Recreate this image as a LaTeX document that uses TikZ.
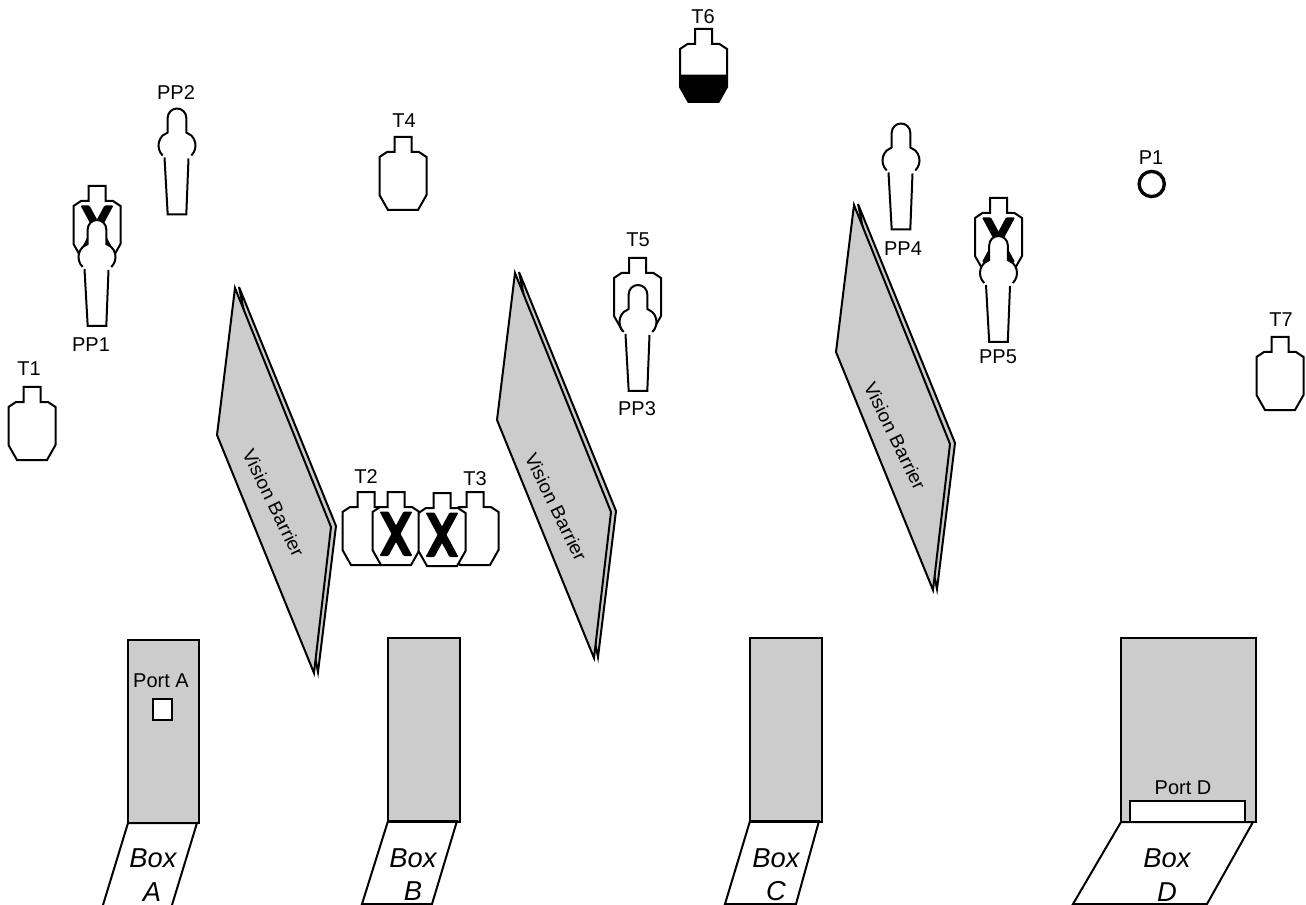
\documentclass[tikz,border=0pt]{standalone}
\usepackage{fontspec}
\setmainfont{Liberation Sans}
\definecolor{panelgray}{HTML}{CCCCCC}
\tikzset{
	lab/.style={font=\fontsize{15}{17}\selectfont, inner sep=0pt},
	boxlab/.style={font=\fontsize{20.5}{23}\selectfont\itshape, inner sep=0pt},
	barlab/.style={font=\fontsize{14}{16}\selectfont, inner sep=0pt, rotate=-64, xscale=1.05},
	outline/.style={line width=1.5pt, black},
	pics/target/.style={code={
		\draw[outline, fill=white] (-8.5,0) -- (8.5,0) -- (8.5,15) -- (16,15) -- (23.5,20) -- (23.5,58) -- (15,73) -- (-15,73) -- (-23.5,58) -- (-23.5,20) -- (-16,15) -- (-8.5,15) -- cycle;
	}},
	pics/hittarget/.style={code={
		\pic {target};
		\fill[rounded corners=0.8pt] (-16.5,19.5) -- (-7.5,19.5) -- (16.5,64) -- (7.5,64) -- cycle;
		\fill[rounded corners=0.8pt] (16.5,19.5) -- (7.5,19.5) -- (-16.5,64) -- (-7.5,64) -- cycle;
	}},
	pics/popper/.style={code={
		\fill[white] (14.3,47) arc[start angle=45.6, end angle=-45.6, radius=14] -- (9.3,24) -- (9.3,9.3) arc[start angle=0, end angle=-180, radius=9.3] -- (-9.3,24) -- (-14.3,27) arc[start angle=-134.4, end angle=-225.6, radius=14] -- (-9.3,106) -- (9.3,106) -- cycle;
		\draw[outline] (14.3,47) arc[start angle=45.6, end angle=-45.6, radius=14] -- (9.3,24) -- (9.3,9.3) arc[start angle=0, end angle=-180, radius=9.3] -- (-9.3,24) -- (-14.3,27) arc[start angle=-134.4, end angle=-225.6, radius=14];
		\draw[outline] (-12.5,49) -- (-9.3,106) -- (9.3,106) -- (11.5,50);
	}},
	pics/barrier/.style={code={
		\draw[outline, fill=panelgray] (4,-1) -- (101,238) -- (83,384) -- cycle;
		\draw[outline, fill=panelgray] (0,0) -- (-18,147) -- (79,385) -- (96,239) -- cycle;
	}}
}
\begin{document}
\begin{tikzpicture}[x=0.75pt, y=-0.75pt]
	\useasboundingbox (0,0) rectangle (1306,905);

	\pic at (235,288) {barrier};
	\pic at (515,273) {barrier};
	\pic at (854,205) {barrier};
	\node (bar1) [barlab] at (273.5,503) {Vision Barrier};
	\node (bar2) [barlab] at (556,507) {Vision Barrier};
	\node (bar3) [barlab] at (895,436) {Vision Barrier};

	\pic at (32,387) {target};
	\pic at (366,492) {target};
	\pic at (396,492) {hittarget};
	\pic at (475,492) {target};
	\pic at (442,493) {hittarget};
	\pic at (403,137) {target};
	\pic at (637.5,258) {target};
	\pic at (703.5,29) {target};
	\fill (680,74.7) -- (727,74.7) -- (727,87) -- (718.5,102) -- (688.5,102) -- (680,87) -- cycle;
	\pic at (1280,337) {target};
	\pic at (97,186) {hittarget};
	\pic at (998.5,198) {hittarget};

	\pic at (97,220) {popper};
	\pic at (177,108.5) {popper};
	\pic at (638,285) {popper};
	\pic at (901,123.5) {popper};
	\pic at (998.5,236) {popper};

	\draw[line width=2.5pt] (1151.7,184) circle[radius=12.6];

	\draw[outline, fill=panelgray] (128,640) rectangle (199,823);
	\draw[outline, fill=panelgray] (388,638) rectangle (460,822);
	\draw[outline, fill=panelgray] (750,638) rectangle (822,822);
	\draw[outline, fill=panelgray] (1121,638) rectangle (1256,822);
	\draw[outline, fill=white] (153,699) rectangle (172,720);
	\draw[outline, fill=white] (1130,801) rectangle (1245,822);

	\draw[outline] (103,905) -- (128,823) -- (197,823) -- (172,905);
	\draw[outline] (362,904) -- (388,821) -- (457,821) -- (432,904) -- cycle;
	\draw[outline] (725,904) -- (750,821) -- (819,821) -- (796,904) -- cycle;
	\draw[outline] (1073,904) -- (1121,822) -- (1253,822) -- (1207,904) -- cycle;

	\node (porta) [lab] at (161,681) {Port A};
	\node (portd) [lab] at (1183,788) {Port D};
	\node (boxa1) [boxlab] at (153,858) {Box};
	\node (boxa2) [boxlab] at (152,892) {A};
	\node (boxb1) [boxlab] at (413,858) {Box};
	\node (boxb2) [boxlab] at (413,891) {B};
	\node (boxc1) [boxlab] at (776,858) {Box};
	\node (boxc2) [boxlab] at (776,891) {C};
	\node (boxd1) [boxlab] at (1167,858) {Box};
	\node (boxd2) [boxlab] at (1167,892) {D};

	\node (t1) [lab] at (29,369) {T1};
	\node (t2) [lab] at (366,477) {T2};
	\node (t3) [lab] at (475,479) {T3};
	\node (t4) [lab] at (404,121) {T4};
	\node (t5) [lab] at (638,240) {T5};
	\node (t6) [lab] at (703,17) {T6};
	\node (t7) [lab] at (1281,320) {T7};
	\node (pp1) [lab] at (91,345) {PP1};
	\node (pp2) [lab] at (176,93) {PP2};
	\node (pp3) [lab] at (637,409) {PP3};
	\node (pp4) [lab] at (903,249) {PP4};
	\node (pp5) [lab] at (998,357) {PP5};
	\node (p1) [lab] at (1151,158) {P1};
\end{tikzpicture}
\end{document}
